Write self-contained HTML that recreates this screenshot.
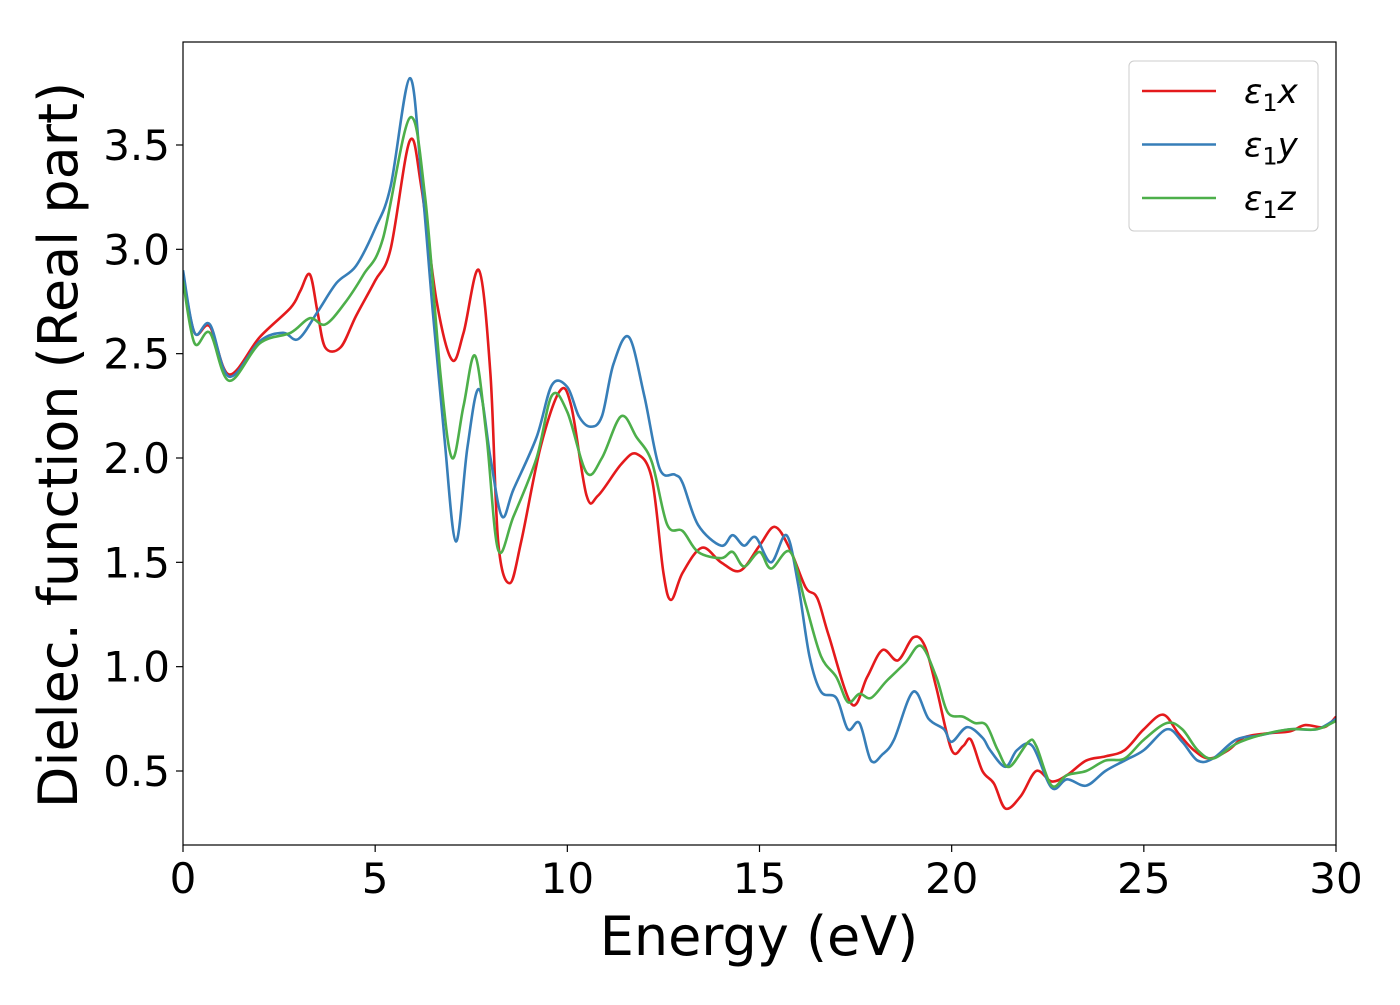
<!DOCTYPE html>
<html><head><meta charset="utf-8"><style>
body{margin:0;background:#fff}
svg text{font-family:"DejaVu Sans","Liberation Sans",sans-serif}
</style></head><body>
<svg width="1400" height="1000" xmlns="http://www.w3.org/2000/svg">
<g id="plot"></g>
</svg>
<script>
const xTicks=[0,5,10,15,20,25,30];
const yTicks=[0.5,1.0,1.5,2.0,2.5,3.0,3.5];
const seriesNames=["ε₁x","ε₁y","ε₁z"];
const energyX=[0,0.3,0.7,1.2,2,2.8,3.05,3.3,3.5,3.7,4.1,4.5,5,5.4,5.9,6.2,6.6,7.0,7.3,7.7,8.0,8.2,8.5,8.8,9.3,9.8,10.1,10.5,10.8,11.4,11.8,12.2,12.5,12.7,13.0,13.5,14.0,14.5,15.0,15.4,15.8,16.2,16.5,16.8,17.4,17.8,18.2,18.6,19.0,19.3,19.6,20.0,20.3,20.5,20.8,21.1,21.4,21.8,22.2,22.6,23.0,23.5,24.0,24.5,25.0,25.5,25.9,26.3,26.7,27.2,27.6,28.2,28.8,29.2,29.7,30];
const valuesX=[2.88,2.6,2.63,2.4,2.58,2.72,2.8,2.88,2.7,2.53,2.53,2.68,2.85,3.0,3.52,3.3,2.75,2.47,2.6,2.9,2.4,1.6,1.4,1.6,2.05,2.32,2.25,1.82,1.82,1.97,2.02,1.9,1.45,1.32,1.45,1.57,1.5,1.46,1.58,1.67,1.56,1.38,1.33,1.15,0.82,0.95,1.08,1.03,1.14,1.1,0.9,0.6,0.62,0.65,0.5,0.44,0.32,0.38,0.5,0.45,0.48,0.55,0.57,0.6,0.7,0.77,0.68,0.6,0.56,0.6,0.66,0.68,0.69,0.72,0.71,0.76];
const energyY=[0,0.3,0.7,1.2,2,2.6,3.0,3.5,4.0,4.5,5.0,5.4,5.9,6.2,6.5,6.8,7.1,7.4,7.7,8.0,8.3,8.6,9.2,9.6,10.0,10.3,10.6,10.9,11.2,11.6,12.0,12.4,12.8,13.0,13.4,14.0,14.3,14.6,14.9,15.3,15.7,16.0,16.3,16.6,17.0,17.3,17.6,17.9,18.2,18.5,19.0,19.4,19.8,20.0,20.4,20.8,21.0,21.4,21.7,22.1,22.6,23.0,23.5,24.0,24.5,25.0,25.6,26.0,26.4,26.8,27.4,28.0,28.8,29.5,30];
const valuesY=[2.9,2.6,2.64,2.39,2.56,2.6,2.57,2.7,2.84,2.92,3.1,3.3,3.82,3.35,2.7,2.1,1.6,2.05,2.33,2.0,1.72,1.85,2.1,2.35,2.34,2.2,2.15,2.2,2.45,2.58,2.3,1.95,1.92,1.88,1.68,1.58,1.63,1.58,1.62,1.5,1.63,1.4,1.05,0.88,0.85,0.7,0.73,0.55,0.58,0.65,0.88,0.75,0.7,0.64,0.71,0.66,0.6,0.52,0.6,0.62,0.42,0.46,0.43,0.5,0.55,0.6,0.7,0.64,0.55,0.56,0.65,0.67,0.7,0.7,0.75];
const energyZ=[0,0.3,0.7,1.2,2,2.8,3.3,3.7,4.2,4.7,5.2,5.9,6.3,6.7,7.0,7.3,7.6,7.9,8.2,8.6,9.2,9.6,10.0,10.5,10.9,11.4,11.8,12.2,12.6,13.0,13.4,14.0,14.3,14.6,15.0,15.3,15.8,16.2,16.6,17.0,17.3,17.6,17.9,18.3,18.8,19.2,19.6,19.9,20.3,20.6,20.9,21.2,21.5,22.0,22.2,22.6,23.0,23.5,24.0,24.5,25.0,25.6,26.0,26.4,26.8,27.4,28.0,28.8,29.5,30];
const valuesZ=[2.85,2.55,2.6,2.37,2.55,2.6,2.67,2.64,2.74,2.88,3.05,3.63,3.25,2.4,2.0,2.25,2.49,2.1,1.56,1.72,2.0,2.3,2.22,1.93,2.0,2.2,2.1,1.98,1.68,1.65,1.55,1.52,1.55,1.48,1.55,1.47,1.55,1.3,1.05,0.95,0.83,0.87,0.85,0.93,1.02,1.1,0.95,0.78,0.76,0.73,0.72,0.6,0.52,0.64,0.62,0.43,0.48,0.5,0.55,0.56,0.65,0.73,0.7,0.6,0.56,0.63,0.67,0.7,0.7,0.74];
const colors=["#e41a1c","#377eb8","#4daf4a"];
const L=183,R=1336,T=42,B=845;
const sx=e=>L+(e-0)/30*(R-L);
const sy=v=>771-(v-0.5)*208.67;
const NS="http://www.w3.org/2000/svg";
const g=document.getElementById('plot');
function mk(tag,attrs,parent){const el=document.createElementNS(NS,tag);for(const k in attrs)el.setAttribute(k,attrs[k]);(parent||g).appendChild(el);return el;}
function path(xs,ys){const p=xs.map((x,i)=>[sx(x),sy(ys[i])]);let d=`M${p[0][0]},${p[0][1]}`;for(let i=0;i<p.length-1;i++){const p0=p[Math.max(0,i-1)],p1=p[i],p2=p[i+1],p3=p[Math.min(p.length-1,i+2)];const c1=[p1[0]+(p2[0]-p0[0])/6,p1[1]+(p2[1]-p0[1])/6],c2=[p2[0]-(p3[0]-p1[0])/6,p2[1]-(p3[1]-p1[1])/6];d+=`C${c1[0]},${c1[1]} ${c2[0]},${c2[1]} ${p2[0]},${p2[1]}`;}return d;}
const clip=mk('clipPath',{id:'c'});mk('rect',{x:L,y:T,width:R-L,height:B-T},clip);
const data=[[energyX,valuesX],[energyY,valuesY],[energyZ,valuesZ]];
const names=['series-eps1x','series-eps1y','series-eps1z'];
data.forEach((d,i)=>{const p=mk('path',{d:path(d[0],d[1]),fill:'none',stroke:colors[i],'stroke-width':2.6,'clip-path':'url(#c)'});

});
const frame=mk('rect',{x:L,y:T,width:R-L,height:B-T,fill:'none',stroke:'#000','stroke-width':1.2});


xTicks.forEach(t=>{mk('line',{x1:sx(t),x2:sx(t),y1:B,y2:B+7,stroke:'#000','stroke-width':1.2});
const tx=mk('text',{x:sx(t),y:893,'font-size':42,'text-anchor':'middle'});tx.textContent=t;

});
yTicks.forEach(t=>{mk('line',{x1:L-7,x2:L,y1:sy(t),y2:sy(t),stroke:'#000','stroke-width':1.2});
const tx=mk('text',{x:170,y:sy(t)+15,'font-size':42,'text-anchor':'end'});tx.textContent=t.toFixed(1);

});
const xl=mk('text',{x:759,y:955,'font-size':54,'text-anchor':'middle'});xl.textContent='Energy (eV)';


const yl=mk('text',{x:0,y:0,'font-size':54,'text-anchor':'middle',transform:'translate(77,445) rotate(-90)'});yl.textContent='Dielec. function (Real part)';


const lg=mk('g',{});


mk('rect',{x:1129,y:61,width:189,height:170,rx:5,fill:'#fff',stroke:'#ccc','stroke-width':1},lg);
seriesNames.forEach((n,i)=>{const y=91+i*53.5;
mk('line',{x1:1142,x2:1216,y1:y,y2:y,stroke:colors[i],'stroke-width':2.6},lg);
const t=mk('text',{x:1244,y:y+12,'font-size':34,'font-style':'italic'},lg);
t.innerHTML='ε<tspan font-style="normal" font-size="24" dy="8">1</tspan><tspan dy="-8">'+['x','y','z'][i]+'</tspan>';

});
</script>
</body></html>
